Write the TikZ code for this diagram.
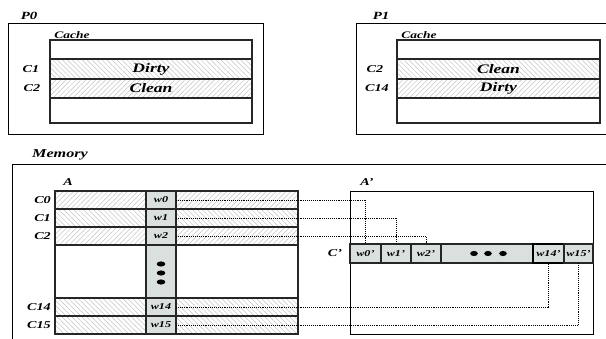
\documentclass[tikz,border=0pt]{standalone}
\usepackage{fontspec}
\setmainfont[FakeStretch=1.35]{Liberation Serif}
\usetikzlibrary{patterns.meta}
\definecolor{wgray}{RGB}{218,224,221}
\definecolor{hatchc}{RGB}{195,195,195}
\begin{document}
\begin{tikzpicture}[x=1pt,y=-1pt,
  box/.style={draw=black, line width=0.9pt, inner sep=0pt, outer sep=0pt, anchor=north west},
  cell/.style={draw=black!85, line width=1.1pt, inner sep=0pt, outer sep=0pt, anchor=north west},
  hne/.style={pattern={Lines[angle=45,distance=3.5pt,line width=0.5pt]}, pattern color=hatchc},
  hnw/.style={pattern={Lines[angle=-45,distance=3.5pt,line width=0.5pt]}, pattern color=hatchc},
  wcell/.style={cell, fill=wgray, minimum width=30pt, font=\bfseries\itshape\fontsize{9}{10}\selectfont},
  big/.style={font=\bfseries\itshape\fontsize{13}{14}\selectfont},
  lbl/.style={font=\bfseries\itshape\fontsize{10.5}{11}\selectfont, inner sep=0pt},
  conn/.style={densely dotted, line width=0.9pt, black}
]
\useasboundingbox (0,0) rectangle (606,339);

% ---------- P0 ----------
\node[lbl, font=\bfseries\itshape\fontsize{11}{12}\selectfont] (p0lab) at (29,16) {P0};
\node[box, minimum width=255pt, minimum height=111pt] (p0) at (8,23) {};
\node[lbl, font=\bfseries\itshape\fontsize{10}{11}\selectfont] (p0cache) at (72,35) {Cache};
\node[cell, minimum width=202pt, minimum height=19pt] (p0r0) at (50,40) {};
\node[cell, hnw, minimum width=202pt, minimum height=20pt, big] (p0r1) at (50,59) {Dirty};
\node[cell, hne, minimum width=202pt, minimum height=19pt, big] (p0r2) at (50,79) {Clean};
\node[cell, minimum width=202pt, minimum height=25pt] (p0r3) at (50,98) {};
\node[lbl] (p0c1) at (31,69) {C1};
\node[lbl] (p0c2) at (32,88) {C2};

% ---------- P1 ----------
\node[lbl, font=\bfseries\itshape\fontsize{11}{12}\selectfont] (p1lab) at (381,16) {P1};
\node[box, minimum width=270pt, minimum height=111pt] (p1) at (356,23) {};
\node[lbl, font=\bfseries\itshape\fontsize{10}{11}\selectfont] (p1cache) at (419,35) {Cache};
\node[cell, minimum width=203pt, minimum height=19pt] (p1r0) at (397,40) {};
\node[cell, hnw, minimum width=203pt, minimum height=20pt, big] (p1r1) at (397,59) {Clean};
\node[cell, hne, minimum width=203pt, minimum height=19pt, big] (p1r2) at (397,79) {Dirty};
\node[cell, minimum width=203pt, minimum height=25pt] (p1r3) at (397,98) {};
\node[lbl] (p1c2) at (375,69) {C2};
\node[lbl] (p1c14) at (377,88) {C14};

% ---------- Memory ----------
\node[lbl, font=\bfseries\itshape\fontsize{12}{13}\selectfont] (memlab) at (60,155) {Memory};
\node[box, minimum width=620pt, minimum height=190pt] (mem) at (12,164) {};

% A
\node[lbl] (Alab) at (68,182) {A};
\node[cell, hne, minimum width=243pt, minimum height=18pt] (rc0) at (55,191) {};
\node[cell, hnw, minimum width=243pt, minimum height=18pt] (rc1) at (55,209) {};
\node[cell, hne, minimum width=243pt, minimum height=18pt] (rc2) at (55,227) {};
\node[cell, minimum width=243pt, minimum height=53pt] (rgap) at (55,245) {};
\node[cell, hnw, minimum width=243pt, minimum height=18pt] (rc14) at (55,298) {};
\node[cell, hnw, minimum width=243pt, minimum height=18pt] (rc15) at (55,316) {};
\node[wcell, minimum height=18pt] (w0) at (146,191) {w0};
\node[wcell, minimum height=18pt] (w1) at (146,209) {w1};
\node[wcell, minimum height=18pt] (w2) at (146,227) {w2};
\node[wcell, minimum height=53pt] (wgap) at (146,245) {};
\node[wcell, minimum height=18pt] (w14) at (146,298) {w14};
\node[wcell, minimum height=18pt] (w15) at (146,316) {w15};
\fill (161,264) ellipse [x radius=4.3, y radius=2.6];
\fill (161,273) ellipse [x radius=4.3, y radius=2.6];
\fill (161,282) ellipse [x radius=4.3, y radius=2.6];
\node[lbl, anchor=east] (lc0) at (51,200) {C0};
\node[lbl, anchor=east] (lc1) at (51,218) {C1};
\node[lbl, anchor=east] (lc2) at (51,236) {C2};
\node[lbl, anchor=east] (lc14) at (51,307) {C14};
\node[lbl, anchor=east] (lc15) at (51,325) {C15};

% A'
\node[lbl] (Aplab) at (367,182) {A'};
\node[box, minimum width=243pt, minimum height=143pt] (Ap) at (350,191) {};
\node[lbl] (cplab) at (335,253) {C'};
\node[wcell, minimum width=31pt, minimum height=19pt] (w0p) at (350,244) {w0'};
\node[wcell, minimum width=30pt, minimum height=19pt] (w1p) at (381,244) {w1'};
\node[wcell, minimum width=30pt, minimum height=19pt] (w2p) at (411,244) {w2'};
\node[wcell, minimum width=92pt, minimum height=19pt] (wdp) at (441,244) {};
\node[wcell, draw=black, minimum width=31pt, minimum height=19pt] (w14p) at (533,244) {w14'};
\node[wcell, minimum width=29pt, minimum height=19pt] (w15p) at (564,244) {w15'};
\fill (474,253.5) ellipse [x radius=3.8, y radius=2.6];
\fill (488,253.5) ellipse [x radius=3.8, y radius=2.6];
\fill (503,253.5) ellipse [x radius=3.8, y radius=2.6];

% connectors
\draw[conn] (w0.east) -| (w0p.north);
\draw[conn] (w1.east) -| (w1p.north);
\draw[conn] (w2.east) -| (w2p.north);
\draw[conn] (w14.east) -| (w14p.south);
\draw[conn] (w15.east) -| (w15p.south);
\end{tikzpicture}
\end{document}
